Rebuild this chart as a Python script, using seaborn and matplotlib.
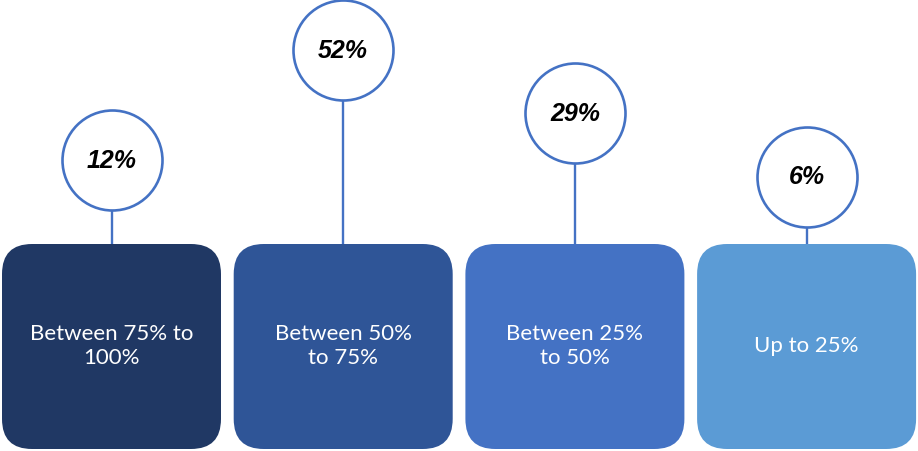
import matplotlib
matplotlib.use("Agg")
import matplotlib.pyplot as plt
from matplotlib.patches import FancyBboxPatch
import seaborn as sns
import pandas as pd

# ---- data ----
categories = ["Between 75% to\n100%", "Between 50%\nto 75%", "Between 25%\nto 50%", "Up to 25%"]
values = [12, 52, 29, 6]
value_labels = ["12%", "52%", "29%", "6%"]
box_colors = ["#203864", "#2F5597", "#4472C4", "#5B9BD5"]

sns.set_theme(style="white")
plt.rcParams["font.family"] = ["Lato", "DejaVu Sans"]

W, H = 918, 452
px_per_cat = 231.7        # horizontal pixels per category step
px_per_unit = 2.75        # vertical pixels per percentage point
box_h_px = 205
box_w_px = 219
radius_px = 51
corner_px = 30

fig = plt.figure(figsize=(W / 100, H / 100), dpi=100)
ax = fig.add_axes([0, 0, 1, 1])

x0 = 111.5 / px_per_cat
ax.set_xlim(-x0, (W - 111.5) / px_per_cat)
ymin = -(box_h_px + 2) / px_per_unit
ax.set_ylim(ymin, ymin + H / px_per_unit)
ax.axis("off")

df = pd.DataFrame({"x": range(len(values)), "value": values})
r_units = radius_px / px_per_unit
df["cy"] = df["value"] + r_units

# rounded boxes
half_w = box_w_px / 2 / px_per_cat
box_h = box_h_px / px_per_unit
mut_aspect = px_per_cat / px_per_unit
for i, c in enumerate(box_colors):
    patch = FancyBboxPatch((i - half_w, -box_h), 2 * half_w, box_h,
                           boxstyle=f"round,pad=0,rounding_size={corner_px / px_per_cat}",
                           mutation_aspect=mut_aspect,
                           facecolor=c, edgecolor="none", zorder=2)
    ax.add_patch(patch)
    ax.text(i, -box_h / 2 + 1 / px_per_unit, categories[i], ha="center", va="center",
            color="white", fontsize=16, linespacing=1.25, zorder=3)

# stems
ax.vlines(df["x"], 0, df["value"], color="#4472C4", lw=1.7, zorder=1)

# circles
sns.scatterplot(data=df, x="x", y="cy", s=5184, marker="o", facecolor="white",
                edgecolor="#4472C4", linewidth=1.9, ax=ax, zorder=4, legend=False)
ax.set_xlabel("")
ax.set_ylabel("")
ax.axis("off")

for i, row in df.iterrows():
    ax.text(row["x"], row["cy"], value_labels[i], ha="center", va="center",
            fontsize=18, fontweight="bold", fontstyle="italic",
            family=["Liberation Sans", "DejaVu Sans"], color="black", zorder=5)

fig.savefig("out.png", dpi=100, facecolor="white")
